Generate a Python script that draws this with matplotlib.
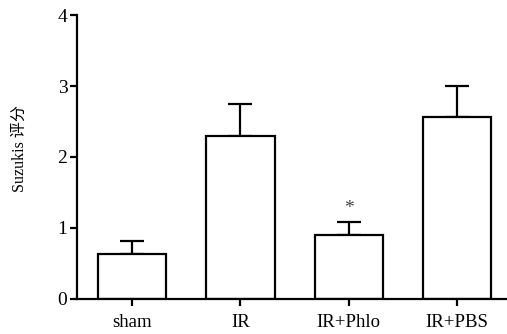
import matplotlib
matplotlib.use("Agg")
import matplotlib.pyplot as plt

categories = ["sham", "IR", "IR+Phlo", "IR+PBS"]
means = [0.63, 2.30, 0.90, 2.57]
errors = [0.19, 0.45, 0.19, 0.43]
yticks = [0, 1, 2, 3, 4]
ylabel = "Suzukis 评分"
sig_marks = ["", "", "*", ""]

plt.rcParams['font.family'] = ['Liberation Serif', 'Noto Sans CJK SC']

fig = plt.figure(figsize=(5.07, 3.34), dpi=100)
ax = fig.add_axes([0.152, 0.105, 0.848, 0.85])
x = list(range(len(categories)))
ax.bar(x, means, width=0.63, color='white', edgecolor='black', linewidth=1.6, zorder=2)
ax.errorbar(x, means, yerr=[[0]*len(errors), errors], fmt='none', ecolor='black',
            elinewidth=1.6, capsize=8.3, capthick=1.6, zorder=1)
for xi, m, e, s in zip(x, means, errors, sig_marks):
    if s:
        ax.text(xi, m + e + 0.06, s, ha='center', va='bottom', fontsize=14, color='#444444')

ax.set_xlim(-0.508, 3.46)
ax.set_ylim(0, 4)
ax.set_yticks(yticks)
ax.set_xticks(x)
ax.set_xticklabels(categories, fontsize=13.5)
ax.tick_params(axis='y', labelsize=14, width=1.6, length=5, direction='out', pad=2)
ax.tick_params(axis='x', width=1.6, length=5, direction='out', pad=6)
ax.spines['top'].set_visible(False)
ax.spines['right'].set_visible(False)
ax.spines['left'].set_linewidth(1.6)
ax.spines['bottom'].set_linewidth(1.6)
ax.set_ylabel(ylabel, fontsize=11.5)
ax.yaxis.set_label_coords(-0.115, 0.53)
fig.savefig("out.png", dpi=100)
